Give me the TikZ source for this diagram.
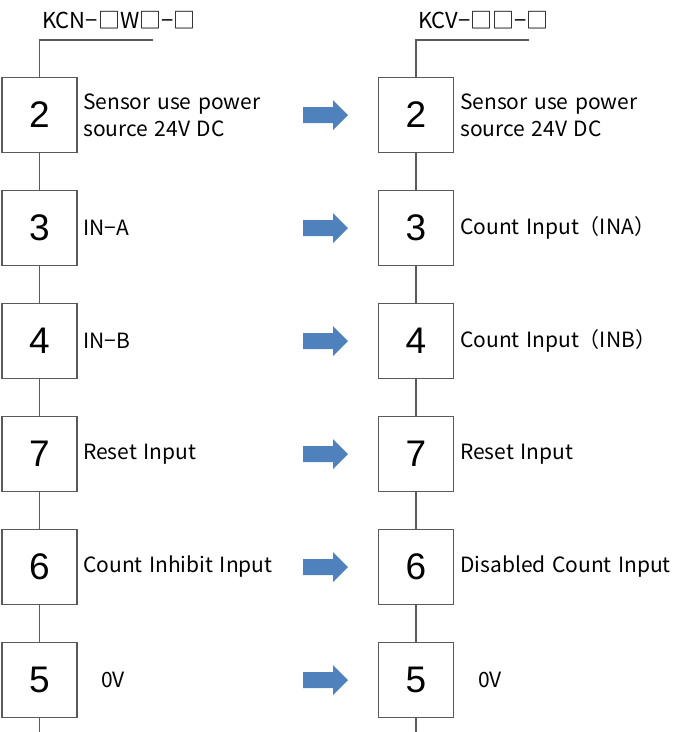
\documentclass[tikz,border=0pt]{standalone}
\usepackage{fontspec}
\setmainfont{Noto Sans CJK JP}
\newfontfamily\pinfont{Liberation Sans}
\definecolor{pinline}{HTML}{5A5A5A}
\definecolor{swapblue}{HTML}{4F81BD}
\newcommand{\lblfont}{\fontsize{21}{27}\selectfont\spaceskip=6.5pt plus 1pt\relax}

\tikzset{
  pinbox/.style={draw=pinline,line width=1.1pt,fill=white,minimum size=75pt,inner sep=0pt,
    font=\pinfont\fontsize{37}{37}\selectfont},
  pinlbl/.style={anchor=west,inner sep=0pt,align=left,font=\lblfont},
  hdr/.style={anchor=west,inner sep=0pt,font=\fontsize{22}{24}\selectfont},
  wire/.style={pinline,line width=1.1pt},
  swaparrow/.style={fill=swapblue}
}

\begin{document}
\begin{tikzpicture}[x=1pt,y=-1pt]
  \useasboundingbox (0,0) rectangle (681,732);
  % model headers
  \node[hdr] (hdrL) at (42,20) {KCN−□W□−□};
  \node[hdr] (hdrR) at (418,20) {KCV−□□−□};
  \coordinate (barL) at (153,40);
  \coordinate (topL) at (39.5,40);
  \coordinate (barR) at (529,40);
  \coordinate (topR) at (416,40);
  \coordinate (endL) at (39.5,732);
  \coordinate (endR) at (416,732);
  % terminal boxes and block arrows
  \foreach \pin/\y [count=\i] in {2/115,3/228,4/341,7/454,6/567,5/680} {
    \node[pinbox] (L\i) at (39.5,\y) {\pin};
    \node[pinbox] (R\i) at (416,\y) {\pin};
    \coordinate (S\i) at (303,\y);
    \fill[swaparrow] (S\i) ++(0,-8) -- ++(30,0) -- ++(0,-7) -- ++(15,15)
      -- ++(-15,15) -- ++(0,-7) -- ++(-30,0) -- cycle;
  }
  % wiring
  \draw[wire] (barL) -- (topL) -- (L1);
  \draw[wire] (barR) -- (topR) -- (R1);
  \foreach \i/\j in {1/2,2/3,3/4,4/5,5/6} {
    \draw[wire] (L\i) -- (L\j);
    \draw[wire] (R\i) -- (R\j);
  }
  \draw[wire] (L6) -- (endL);
  \draw[wire] (R6) -- (endR);
  % signal names
  \node[pinlbl] (tL1) at (83,115) {Sensor use power\\source 24V DC};
  \node[pinlbl] (tL2) at (83,228) {IN−A};
  \node[pinlbl] (tL3) at (83,341) {IN−B};
  \node[pinlbl] (tL4) at (83,454) {Reset Input};
  \node[pinlbl] (tL5) at (83,567) {Count Inhibit Input};
  \node[pinlbl] (tL6) at (101,680) {0V};
  \node[pinlbl] (tR1) at (460,115) {Sensor use power\\source 24V DC};
  \node[pinlbl] (tR2) at (460,228) {Count Input（INA）};
  \node[pinlbl] (tR3) at (460,341) {Count Input（INB）};
  \node[pinlbl] (tR4) at (460,454) {Reset Input};
  \node[pinlbl] (tR5) at (460,567) {Disabled Count Input};
  \node[pinlbl] (tR6) at (478,680) {0V};
\end{tikzpicture}
\end{document}
